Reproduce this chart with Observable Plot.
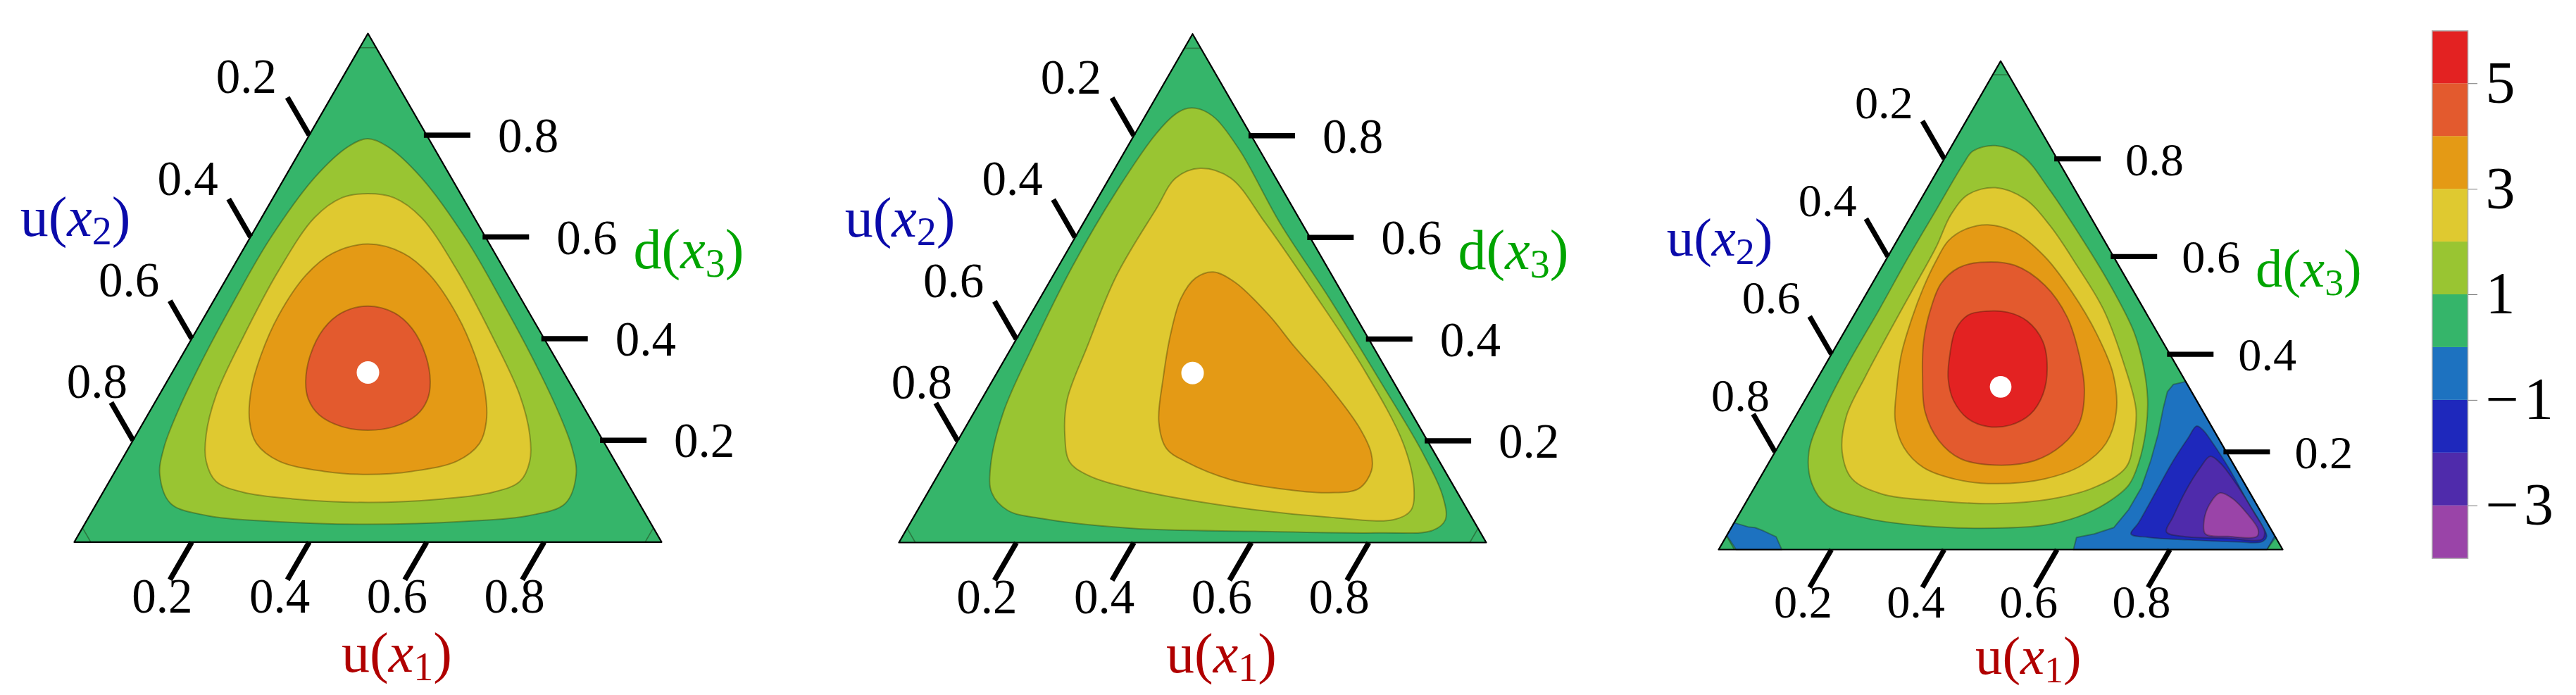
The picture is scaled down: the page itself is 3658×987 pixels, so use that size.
<!DOCTYPE html>
<html><head><meta charset="utf-8">
<script src="https://cdn.jsdelivr.net/npm/d3@7"></script>
<script src="https://cdn.jsdelivr.net/npm/@observablehq/plot@0.6"></script>
<style>
html,body{margin:0;padding:0;background:#fff;width:3658px;height:987px;overflow:hidden;}
.panel{position:absolute;top:0;}
.panel svg{overflow:visible;}
.panel svg, .panel text, .panel tspan{font-family:"Liberation Serif","Times New Roman",Times,serif !important;}
</style></head><body>
<div id="p1" class="panel"></div>
<div id="p2" class="panel"></div>
<div id="p3" class="panel"></div>
<div id="cb" class="panel"></div>
<script>
// ---------- values ----------
const bandLower = [-4,-3,-2,-1,0,1,2,3,4,5];
const bandColors = ["#9A44A8","#4F2BAB","#1E28BC","#1D72C0","#35B56A","#99C532","#DFC930","#E49A15","#E35A2E","#E32222"];
const colorbarTicks = [-3,-1,1,3,5];
const axisTicks = [0.2,0.4,0.6,0.8];
const centre = [[1/3,1/3]];            // [u(x1), d(x3)]
const triangle = [[0,0],[1,0],[0,1]];   // corners as [u(x1), d(x3)]
const cornerCut = 0.028;

// contour outlines, points as [u(x1), d(x3)]  (u(x2) = 1 - u1 - d3)
const p1_level1 = [[0.103,0.793],[0.078,0.778],[0.051,0.717],[0.035,0.595],[0.035,0.473],[0.039,0.359],[0.048,0.255],[0.060,0.185],[0.079,0.133],[0.126,0.076],[0.200,0.052],[0.312,0.041],[0.482,0.035],[0.647,0.041],[0.748,0.052],[0.798,0.076],[0.788,0.133],[0.755,0.185],[0.697,0.255],[0.602,0.359],[0.492,0.473],[0.370,0.595],[0.232,0.717],[0.144,0.778]];
const p1_level2 = [[0.157,0.685],[0.117,0.677],[0.090,0.638],[0.081,0.534],[0.086,0.403],[0.097,0.289],[0.119,0.211],[0.145,0.159],[0.182,0.119],[0.238,0.098],[0.329,0.085],[0.461,0.078],[0.586,0.085],[0.664,0.098],[0.699,0.119],[0.696,0.159],[0.670,0.211],[0.614,0.289],[0.511,0.403],[0.385,0.534],[0.272,0.638],[0.206,0.677]];
const p1_level3 = [[0.207,0.586],[0.156,0.568],[0.132,0.525],[0.125,0.446],[0.134,0.368],[0.152,0.298],[0.180,0.237],[0.213,0.194],[0.269,0.159],[0.356,0.139],[0.433,0.133],[0.505,0.139],[0.572,0.159],[0.593,0.194],[0.583,0.237],[0.550,0.298],[0.498,0.368],[0.429,0.446],[0.343,0.525],[0.276,0.568]];
const p1_level4 = [[0.268,0.464],[0.230,0.451],[0.215,0.420],[0.218,0.368],[0.236,0.316],[0.258,0.281],[0.292,0.250],[0.342,0.227],[0.390,0.220],[0.431,0.227],[0.458,0.250],[0.461,0.281],[0.448,0.316],[0.414,0.368],[0.365,0.420],[0.319,0.451]];

const p2_level1 = [[0.065,0.854],[0.050,0.843],[0.036,0.804],[0.025,0.690],[0.024,0.542],[0.035,0.385],[0.050,0.255],[0.081,0.150],[0.109,0.098],[0.154,0.063],[0.221,0.047],[0.382,0.028],[0.595,0.022],[0.807,0.019],[0.897,0.024],[0.908,0.045],[0.882,0.089],[0.804,0.176],[0.654,0.324],[0.492,0.481],[0.334,0.629],[0.197,0.769],[0.122,0.834],[0.087,0.852]];
const p2_level2 = [[0.145,0.736],[0.113,0.717],[0.110,0.656],[0.108,0.525],[0.128,0.385],[0.146,0.281],[0.177,0.211],[0.211,0.159],[0.254,0.133],[0.343,0.106],[0.529,0.071],[0.707,0.050],[0.820,0.045],[0.840,0.063],[0.824,0.106],[0.762,0.194],[0.620,0.342],[0.462,0.490],[0.309,0.629],[0.206,0.717]];
const p2_level3 = [[0.269,0.532],[0.245,0.520],[0.240,0.481],[0.257,0.412],[0.288,0.324],[0.324,0.237],[0.363,0.185],[0.409,0.159],[0.502,0.124],[0.595,0.106],[0.683,0.098],[0.730,0.106],[0.734,0.141],[0.716,0.176],[0.669,0.228],[0.579,0.307],[0.481,0.385],[0.408,0.446],[0.316,0.512]];

const p3_level1 = [[0.077,0.827],[0.043,0.816],[0.039,0.789],[0.038,0.700],[0.037,0.600],[0.039,0.491],[0.039,0.382],[0.045,0.282],[0.060,0.200],[0.097,0.136],[0.147,0.091],[0.231,0.064],[0.344,0.048],[0.468,0.044],[0.553,0.050],[0.605,0.068],[0.640,0.095],[0.661,0.132],[0.656,0.177],[0.635,0.245],[0.606,0.309],[0.567,0.373],[0.514,0.445],[0.420,0.545],[0.317,0.645],[0.219,0.736],[0.137,0.805]];
const p3_level2 = [[0.120,0.741],[0.079,0.727],[0.069,0.686],[0.076,0.618],[0.078,0.527],[0.080,0.436],[0.083,0.355],[0.090,0.273],[0.119,0.200],[0.164,0.145],[0.232,0.114],[0.335,0.100],[0.443,0.094],[0.535,0.103],[0.602,0.127],[0.638,0.168],[0.624,0.223],[0.597,0.286],[0.527,0.382],[0.437,0.491],[0.344,0.582],[0.255,0.664],[0.184,0.718]];
const p3_level3 = [[0.145,0.665],[0.110,0.656],[0.091,0.632],[0.090,0.591],[0.095,0.536],[0.106,0.473],[0.124,0.400],[0.152,0.327],[0.181,0.264],[0.224,0.209],[0.279,0.168],[0.348,0.144],[0.423,0.135],[0.506,0.145],[0.558,0.173],[0.578,0.218],[0.564,0.282],[0.520,0.359],[0.450,0.441],[0.363,0.527],[0.278,0.600],[0.200,0.650]];
const p3_level4 = [[0.170,0.588],[0.137,0.577],[0.122,0.545],[0.130,0.491],[0.150,0.427],[0.184,0.355],[0.225,0.282],[0.279,0.223],[0.336,0.186],[0.404,0.173],[0.469,0.182],[0.502,0.214],[0.510,0.259],[0.485,0.327],[0.439,0.400],[0.379,0.477],[0.308,0.541],[0.234,0.582]];
const p3_level5 = [[0.229,0.488],[0.202,0.480],[0.195,0.450],[0.210,0.400],[0.232,0.350],[0.264,0.305],[0.308,0.268],[0.351,0.252],[0.390,0.255],[0.414,0.277],[0.416,0.318],[0.396,0.373],[0.361,0.427],[0.313,0.468],[0.269,0.486]];
const p3_level0_right = [[0.656,0.344],[0.637,0.338],[0.634,0.323],[0.643,0.291],[0.661,0.236],[0.675,0.182],[0.686,0.127],[0.686,0.082],[0.678,0.045],[0.650,0.032],[0.622,0.025],[0.629,0],[0.972,0],[0.975,0.025]];
const p3_level0_left = [[0,0.055],[0.031,0.046],[0.042,0.045],[0.060,0.0385],[0.089,0.026],[0.112,0],[0.031,0],[0,0.029]];
const p3_levelm1 = [[0.721,0.253],[0.718,0.227],[0.715,0.182],[0.716,0.118],[0.717,0.055],[0.715,0.032],[0.750,0.025],[0.822,0.020],[0.911,0.016],[0.955,0.016],[0.958,0.027],[0.938,0.050],[0.887,0.100],[0.824,0.164],[0.767,0.218],[0.736,0.245]];
const p3_levelm2 = [[0.776,0.191],[0.770,0.168],[0.768,0.118],[0.772,0.068],[0.776,0.036],[0.810,0.027],[0.891,0.023],[0.953,0.021],[0.950,0.036],[0.914,0.073],[0.853,0.132],[0.801,0.177]];
const p3_levelm3 = [[0.831,0.116],[0.824,0.095],[0.831,0.059],[0.847,0.032],[0.889,0.027],[0.941,0.027],[0.936,0.041],[0.901,0.073],[0.858,0.105]];

// ---------- tables built from the arrays ----------
const panels = [
  {el:"p1", X0:105, Y0:769.3, side:834, contours:[
    {band:1, pts:p1_level1},{band:2, pts:p1_level2},{band:3, pts:p1_level3},{band:4, pts:p1_level4}]},
  {el:"p2", X0:1276, Y0:770, side:834, contours:[
    {band:1, pts:p2_level1},{band:2, pts:p2_level2},{band:3, pts:p2_level3}]},
  {el:"p3", X0:2440.3, Y0:780, side:801, contours:[
    {band:1, pts:p3_level1},{band:2, pts:p3_level2},{band:3, pts:p3_level3},{band:4, pts:p3_level4},{band:5, pts:p3_level5},
    {band:-1, pts:p3_level0_right, straight:true},{band:-1, pts:p3_level0_left, straight:true},
    {band:-2, pts:p3_levelm1},{band:-3, pts:p3_levelm2},{band:-4, pts:p3_levelm3}]}
];

const S3 = Math.sqrt(3)/2;
const tx = d => d[0] + d[1]/2;
const ty = d => d[1]*S3;
const FONT = "Liberation Serif";
const colorOpts = {type:"threshold", domain:[-3,-2,-1,0,1,2,3,4,5], range:bandColors};
const tips = [
  [[0,1-cornerCut],[cornerCut,1-cornerCut]],
  [[cornerCut,0],[0,cornerCut]],
  [[1-cornerCut,0],[1-cornerCut,cornerCut]]
];

function mathify(svg){
  d3.select(svg).selectAll("text").each(function(){
    const m = /^([ud])\(x(\d)\)$/.exec(this.textContent);
    if(!m) return;
    const s = d3.select(this); s.text(null);
    s.append("tspan").text(m[1]+"(");
    s.append("tspan").attr("font-style","italic").text("x");
    s.append("tspan").attr("font-size","70%").attr("dy","0.22em").text(m[2]);
    s.append("tspan").attr("dy","-0.154em").text(")");
  });
}

for (const P of panels) {
  const k = P.side/834;
  const padL = 110, padR = 260;
  const h = P.side*S3;
  const L = 62/P.side;
  const fs = 69*k, tfs = 80*k;
  const marks = [];
  marks.push(Plot.line(triangle, {x:tx, y:ty, curve:"linear-closed", fill:() => 0}));
  for (const c of P.contours) {
    marks.push(Plot.line(c.pts, {x:tx, y:ty, curve: c.straight ? "linear-closed" : "catmull-rom-closed",
      fill:() => c.band, stroke:"#1c1c00", strokeOpacity:0.32, strokeWidth:2}));
  }
  marks.push(Plot.link(tips, {x1:d=>tx(d[0]), y1:d=>ty(d[0]), x2:d=>tx(d[1]), y2:d=>ty(d[1]), stroke:"#1c1c00", strokeOpacity:0.4, strokeWidth:1.6}));
  marks.push(Plot.line(triangle, {x:tx, y:ty, curve:"linear-closed", stroke:"black", strokeWidth:2.2}));
  // bottom axis u(x1)
  marks.push(Plot.link(axisTicks, {x1:v=>v, y1:()=>0, x2:v=>v-0.5*L, y2:()=>-S3*L, stroke:"black", strokeWidth:7.5*k}));
  marks.push(Plot.text(axisTicks, {x:v=>v, y:()=>0, text:v=>String(v), dx:-42*k, dy:78*k, fontSize:fs, fontFamily:FONT, textAnchor:"middle", fill:"black"}));
  // left axis u(x2)
  marks.push(Plot.link(axisTicks, {x1:v=>(1-v)/2, y1:v=>(1-v)*S3, x2:v=>(1-v)/2-0.5*L, y2:v=>(1-v)*S3+S3*L, stroke:"black", strokeWidth:7.5*k}));
  marks.push(Plot.text(axisTicks.filter(v=>v<0.7), {x:v=>(1-v)/2, y:v=>(1-v)*S3, text:v=>String(v), dx:-46*k, dy:-82*k, fontSize:fs, fontFamily:FONT, textAnchor:"end", fill:"black"}));
  marks.push(Plot.text(axisTicks.filter(v=>v>0.7), {x:v=>(1-v)/2, y:v=>(1-v)*S3, text:v=>String(v), dx:-8*k, dy:-82*k, fontSize:fs, fontFamily:FONT, textAnchor:"end", fill:"black"}));
  // right axis d(x3)
  marks.push(Plot.link(axisTicks, {x1:v=>1-v/2-4/P.side, y1:v=>v*S3, x2:v=>1-v/2+L, y2:v=>v*S3, stroke:"black", strokeWidth:7.5*k}));
  marks.push(Plot.text(axisTicks, {x:v=>1-v/2, y:v=>v*S3, text:v=>String(v), dx:101*k, dy:2*k, fontSize:fs, fontFamily:FONT, textAnchor:"start", fill:"black"}));
  // titles
  marks.push(Plot.text(["u(x1)"], {frameAnchor:"bottom", text:d=>d, dx:41*k, dy:184*k, lineAnchor:"bottom", fontSize:tfs, fontFamily:FONT, fill:"#B00000", textAnchor:"middle"}));
  marks.push(Plot.text(["u(x2)"], {frameAnchor:"bottom-left", text:d=>d, dx:80*k, dy:-435*k, lineAnchor:"bottom", fontSize:tfs, fontFamily:FONT, fill:"#0A0AAA", textAnchor:"end"}));
  marks.push(Plot.text(["d(x3)"], {frameAnchor:"bottom-left", text:d=>d, dx:794*k, dy:-389*k, lineAnchor:"bottom", fontSize:tfs, fontFamily:FONT, fill:"#00A400", textAnchor:"start"}));
  // centre point
  marks.push(Plot.dot(centre, {x:tx, y:ty, r:16*k, fill:"white"}));

  const svg = Plot.plot({
    width: P.side + padL + padR, height: 987,
    marginLeft: padL, marginRight: padR, marginTop: P.Y0 - h, marginBottom: 987 - P.Y0,
    x:{domain:[0,1], axis:null}, y:{domain:[0,S3], axis:null},
    color: colorOpts,
    style:{fontFamily:FONT, background:"transparent", overflow:"visible", maxWidth:"none"},
    marks
  });
  mathify(svg);
  const div = document.getElementById(P.el);
  div.style.left = (P.X0 - padL) + "px";
  div.appendChild(svg);
}

// colour bar
{
  const left = 3400, x0 = 3453.3, x1 = 3504, top = 43.3, bottom = 792.7, W = 258;
  const svg = Plot.plot({
    width: W, height: 987,
    marginLeft: x0 - left, marginRight: left + W - x1, marginTop: top, marginBottom: 987 - bottom,
    x:{domain:[0,1], axis:null}, y:{domain:[-4,6], axis:null},
    color: colorOpts,
    style:{fontFamily:FONT, background:"transparent", overflow:"visible", maxWidth:"none"},
    marks:[
      Plot.rect(bandLower, {x1:()=>0, x2:()=>1, y1:d=>d, y2:d=>d+1, fill:d=>d}),
      Plot.frame({stroke:"#b0b0b0", strokeWidth:1.5}),
      Plot.axisY({anchor:"right", ticks:colorbarTicks, tickSize:13, tickPadding:12, fontSize:84, fontFamily:FONT, stroke:"#777", fill:"black", label:null,
        tickFormat:d => d < 0 ? "\u2212\u200A" + (-d) : String(d)})
    ]
  });
  const div = document.getElementById("cb");
  div.style.left = left + "px";
  div.appendChild(svg);
}
</script>
</body></html>
